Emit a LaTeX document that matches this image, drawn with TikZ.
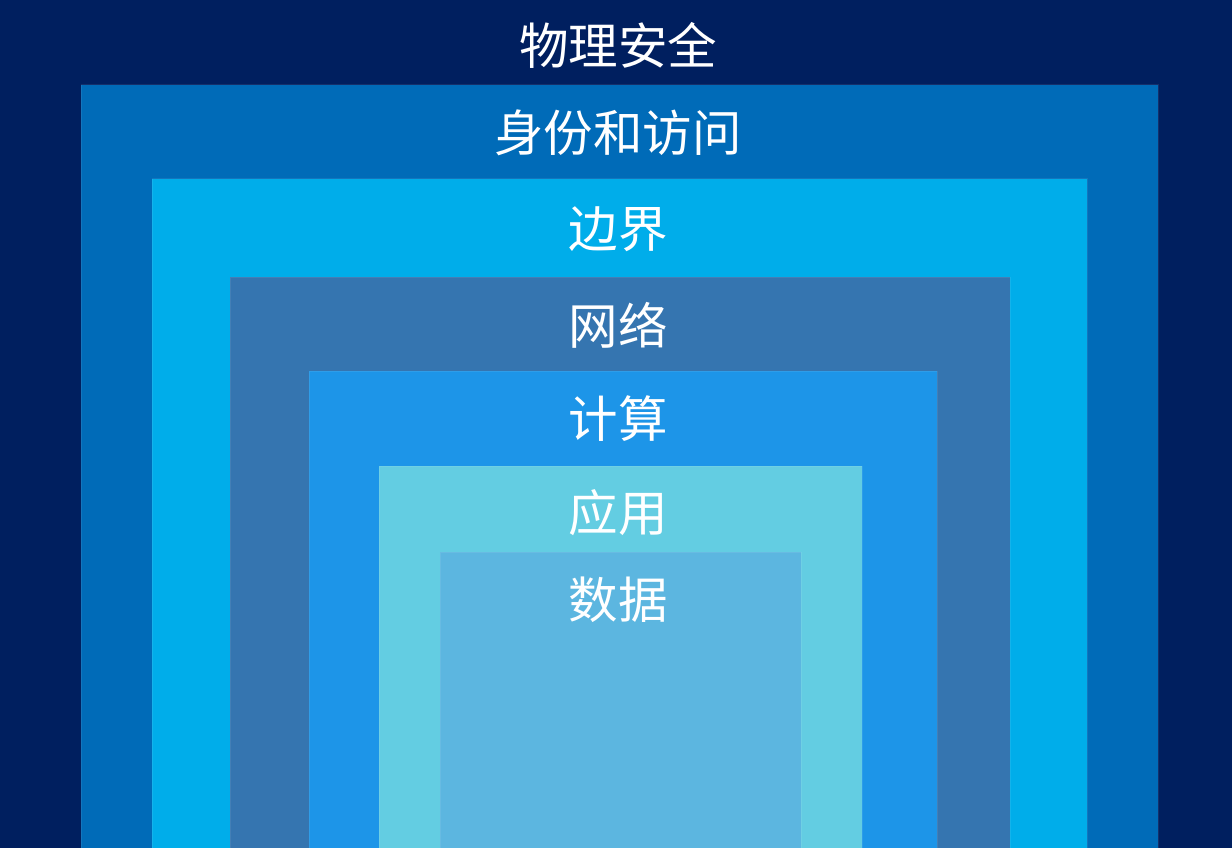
\documentclass[tikz,border=0pt]{standalone}
\usepackage{fontspec}
\newfontfamily\cjk{Noto Sans CJK SC}
\definecolor{c1}{HTML}{001F5F}
\definecolor{c2}{HTML}{006BB8}
\definecolor{c3}{HTML}{00ADEA}
\definecolor{c4}{HTML}{3575B0}
\definecolor{c5}{HTML}{1D95E8}
\definecolor{c6}{HTML}{63CDE2}
\definecolor{c7}{HTML}{5CB6E0}
\tikzset{
  layer/.style={draw=white, draw opacity=0.08, line width=1pt},
  lbl/.style={text=white, font=\cjk\fontsize{49.5}{52}\selectfont, inner sep=0pt, anchor=center}
}
\begin{document}
\begin{tikzpicture}[x=1pt,y=-1pt]
\useasboundingbox (0,0) rectangle (1232,848);
\fill[c1] (0,0) rectangle (1232,848);
\fill[c2,layer] (81,85) rectangle (1158,849);
\fill[c3,layer] (152,179) rectangle (1087,849);
\fill[c4,layer] (230,277) rectangle (1010,849);
\fill[c5,layer] (309,371) rectangle (937,849);
\fill[c6,layer] (379,466) rectangle (862,849);
\fill[c7,layer] (440,552) rectangle (801,849);
\node[lbl] (l1) at (618,45) {物理安全};
\node[lbl] (l2) at (618,133) {身份和访问};
\node[lbl] (l3) at (618,229) {边界};
\node[lbl] (l4) at (618,325) {网络};
\node[lbl] (l5) at (618,419) {计算};
\node[lbl] (l6) at (618,513) {应用};
\node[lbl] (l7) at (618,600) {数据};
\end{tikzpicture}
\end{document}
